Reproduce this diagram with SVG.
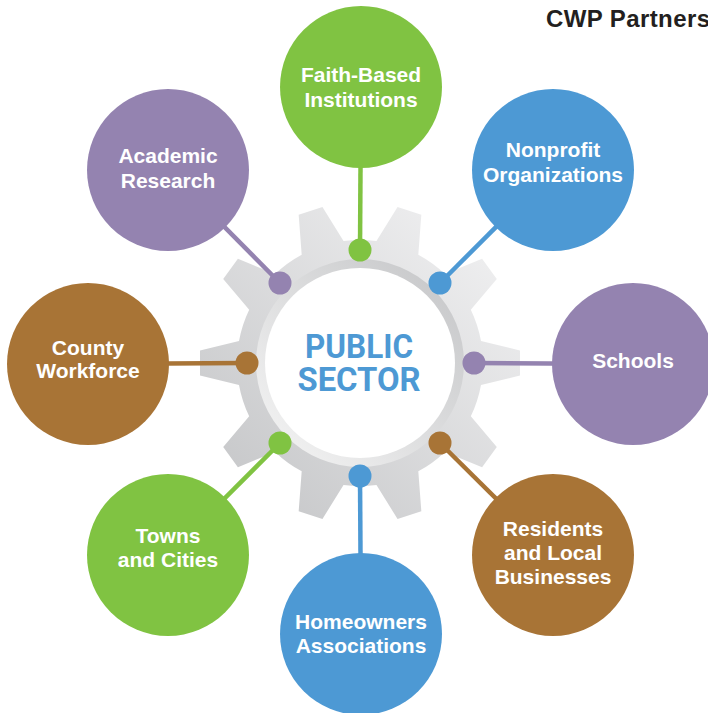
<svg xmlns="http://www.w3.org/2000/svg" width="708" height="713" viewBox="0 0 708 713">
<defs>
<linearGradient id="gearGrad" x1="0" y1="1" x2="1" y2="0">
<stop offset="0" stop-color="#c2c3c5"/>
<stop offset="1" stop-color="#f4f4f5"/>
</linearGradient>
<linearGradient id="ringGrad" x1="0" y1="1" x2="1" y2="0">
<stop offset="0" stop-color="#f6f6f6"/>
<stop offset="1" stop-color="#c3c4c6"/>
</linearGradient>
<style>
.lbl{font-family:"Liberation Sans",Arial,sans-serif;font-weight:bold;font-size:21px;fill:#ffffff;text-anchor:middle}
.green{fill:#80c342}.blue{fill:#4d99d4}.purple{fill:#9483b0}.brown{fill:#a87436}
.ln{stroke-width:4.5;fill:none}
.sg{stroke:#80c342}.sb{stroke:#4d99d4}.sp{stroke:#9483b0}.sr{stroke:#a87436}
.ctr{font-family:Roboto,"Liberation Sans",sans-serif;font-weight:bold;font-size:33px;fill:#4d99d4;text-anchor:middle}
</style>
</defs>
<rect width="708" height="713" fill="#ffffff"/>
<text x="546" y="27" font-family="'Liberation Sans',Arial,sans-serif" font-weight="bold" font-size="24" letter-spacing="0.4" fill="#231f20">CWP Partners</text>
<g id="gear">
<path fill="url(#gearGrad)" d="M481,385 L520,375.5 L520,350.5 L481,341 A123,123 0 0 0 470.82,309.68 L496.79,279.06 L482.09,258.84 L444.96,274.08 A123,123 0 0 0 418.31,254.72 L421.33,214.69 L397.55,206.97 L376.47,241.12 A123,123 0 0 0 343.53,241.12 L322.45,206.97 L298.67,214.69 L301.69,254.72 A123,123 0 0 0 275.04,274.08 L237.91,258.84 L223.21,279.06 L249.18,309.68 A123,123 0 0 0 239,341 L200,350.5 L200,375.5 L239,385 A123,123 0 0 0 249.18,416.32 L223.21,446.94 L237.91,467.16 L275.04,451.92 A123,123 0 0 0 301.69,471.28 L298.67,511.31 L322.45,519.03 L343.53,484.88 A123,123 0 0 0 376.47,484.88 L397.55,519.03 L421.33,511.31 L418.31,471.28 A123,123 0 0 0 444.96,451.92 L482.09,467.16 L496.79,446.94 L470.82,416.32 A123,123 0 0 0 481,385 Z"/>
<circle cx="360" cy="363" r="104" fill="url(#ringGrad)"/>
<circle cx="360" cy="363" r="95" fill="#ffffff"/>
<text class="ctr" x="359" y="358" textLength="108" lengthAdjust="spacingAndGlyphs">PUBLIC</text>
<text class="ctr" x="359" y="391" textLength="123" lengthAdjust="spacingAndGlyphs">SECTOR</text>
</g>
<g id="connectors">
<line class="ln sg" x1="361" y1="87" x2="360" y2="250"/>
<line class="ln sb" x1="553" y1="170" x2="440" y2="283"/>
<line class="ln sp" x1="633" y1="364" x2="474" y2="363"/>
<line class="ln sr" x1="553" y1="555" x2="440" y2="443"/>
<line class="ln sb" x1="361" y1="634" x2="360" y2="476"/>
<line class="ln sg" x1="168" y1="555" x2="280" y2="443"/>
<line class="ln sr" x1="88" y1="364" x2="247" y2="363"/>
<line class="ln sp" x1="168" y1="170" x2="280" y2="283"/>
<circle class="green" cx="360" cy="250" r="11.5"/>
<circle class="blue" cx="440" cy="283" r="11.5"/>
<circle class="purple" cx="474" cy="363" r="11.5"/>
<circle class="brown" cx="440" cy="443" r="11.5"/>
<circle class="blue" cx="360" cy="476" r="11.5"/>
<circle class="green" cx="280" cy="443" r="11.5"/>
<circle class="brown" cx="247" cy="363" r="11.5"/>
<circle class="purple" cx="280" cy="283" r="11.5"/>
</g>
<g id="faith">
<circle class="green" cx="361" cy="87" r="81"/>
<text class="lbl"><tspan x="361" y="82">Faith-Based</tspan><tspan x="361" y="107">Institutions</tspan></text>
</g>
<g id="nonprofit">
<circle class="blue" cx="553" cy="170" r="81"/>
<text class="lbl"><tspan x="553" y="157">Nonprofit</tspan><tspan x="553" y="182">Organizations</tspan></text>
</g>
<g id="schools">
<circle class="purple" cx="633" cy="364" r="81"/>
<text class="lbl" x="633" y="368">Schools</text>
</g>
<g id="residents">
<circle class="brown" cx="553" cy="555" r="81"/>
<text class="lbl"><tspan x="553" y="536">Residents</tspan><tspan x="553" y="560">and Local</tspan><tspan x="553" y="584">Businesses</tspan></text>
</g>
<g id="homeowners">
<circle class="blue" cx="361" cy="634" r="81"/>
<text class="lbl"><tspan x="361" y="629">Homeowners</tspan><tspan x="361" y="653">Associations</tspan></text>
</g>
<g id="towns">
<circle class="green" cx="168" cy="555" r="81"/>
<text class="lbl"><tspan x="168" y="543">Towns</tspan><tspan x="168" y="567">and Cities</tspan></text>
</g>
<g id="county">
<circle class="brown" cx="88" cy="364" r="81"/>
<text class="lbl"><tspan x="88" y="355">County</tspan><tspan x="88" y="378">Workforce</tspan></text>
</g>
<g id="academic">
<circle class="purple" cx="168" cy="170" r="81"/>
<text class="lbl"><tspan x="168" y="163">Academic</tspan><tspan x="168" y="188">Research</tspan></text>
</g>
</svg>
